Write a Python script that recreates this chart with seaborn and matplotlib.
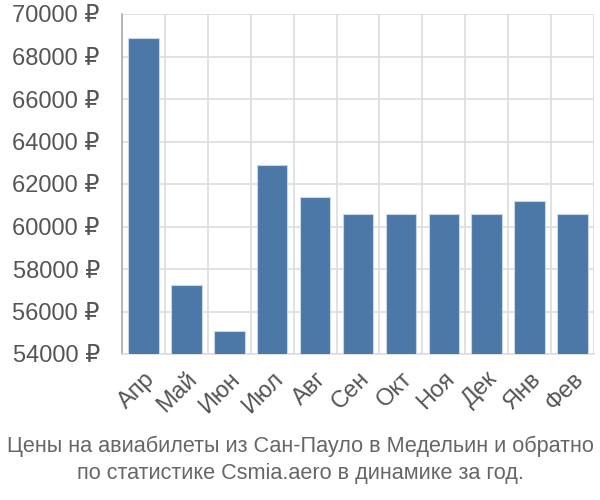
import matplotlib
matplotlib.use("Agg")
import matplotlib.pyplot as plt
import seaborn as sns
import pandas as pd
import numpy as np
from matplotlib.ticker import FixedLocator, FuncFormatter

months = ["Апр", "Май", "Июн", "Июл", "Авг", "Сен", "Окт", "Ноя", "Дек", "Янв", "Фев"]
prices = [68870, 57250, 55100, 62900, 61400, 60580, 60580, 60580, 60580, 61220, 60580]
yticks = [54000, 56000, 58000, 60000, 62000, 64000, 66000, 68000, 70000]
caption = "Цены на авиабилеты из Сан-Пауло в Медельин и обратно\nпо статистике Csmia.aero в динамике за год."

sns.set_style("white")
plt.rcParams['font.family'] = ['Liberation Sans', 'DejaVu Sans']

df = pd.DataFrame({"month": months, "price": prices})

fig = plt.figure(figsize=(6, 5), dpi=100)
ax = fig.add_axes([122/600, 1-354/500, (594-122)/600, (354-14)/500])

sns.barplot(data=df, x="month", y="price", color="#4c78a8", saturation=1, width=0.71,
            edgecolor="#c8d6e8", linewidth=0.8, ax=ax, zorder=3)

ax.set_ylim(54000, 70000)
ax.set_xlim(-0.5, len(months) - 0.5)
ax.set_yticks(yticks)
ax.yaxis.set_major_formatter(FuncFormatter(lambda v, p: f"{int(v)} ₽"))
ax.xaxis.set_minor_locator(FixedLocator(np.arange(-0.5, len(months), 1.0)))

grid_c = "#dddddd"
ax.grid(True, axis="y", which="major", color=grid_c, linewidth=1.2, zorder=0)
ax.grid(True, axis="x", which="minor", color=grid_c, linewidth=1.2, zorder=0)
ax.grid(False, axis="x", which="major")

ax.tick_params(axis="y", which="major", length=14, width=1.2, color=grid_c,
               labelsize=17, labelcolor="#555555", pad=2)
ax.tick_params(axis="x", which="major", length=0, labelsize=17, labelcolor="#555555", pad=10)
ax.tick_params(axis="x", which="minor", length=15, width=1.2, color=grid_c)

for lab in ax.get_xticklabels():
    lab.set_rotation(45)
    lab.set_ha("right")
    lab.set_va("top")
    lab.set_rotation_mode("anchor")

for s in ["top", "right"]:
    ax.spines[s].set_visible(False)
ax.spines["left"].set_color("#aaaaaa")
ax.spines["left"].set_linewidth(1.2)
ax.spines["bottom"].set_color(grid_c)
ax.spines["bottom"].set_linewidth(1.2)

ax.set_xlabel("")
ax.set_ylabel("")

fig.text(0.5, 0.08, caption, ha="center", va="center", fontsize=15.6,
         color="#666666", linespacing=1.35)

fig.savefig("out.png", dpi=100)
